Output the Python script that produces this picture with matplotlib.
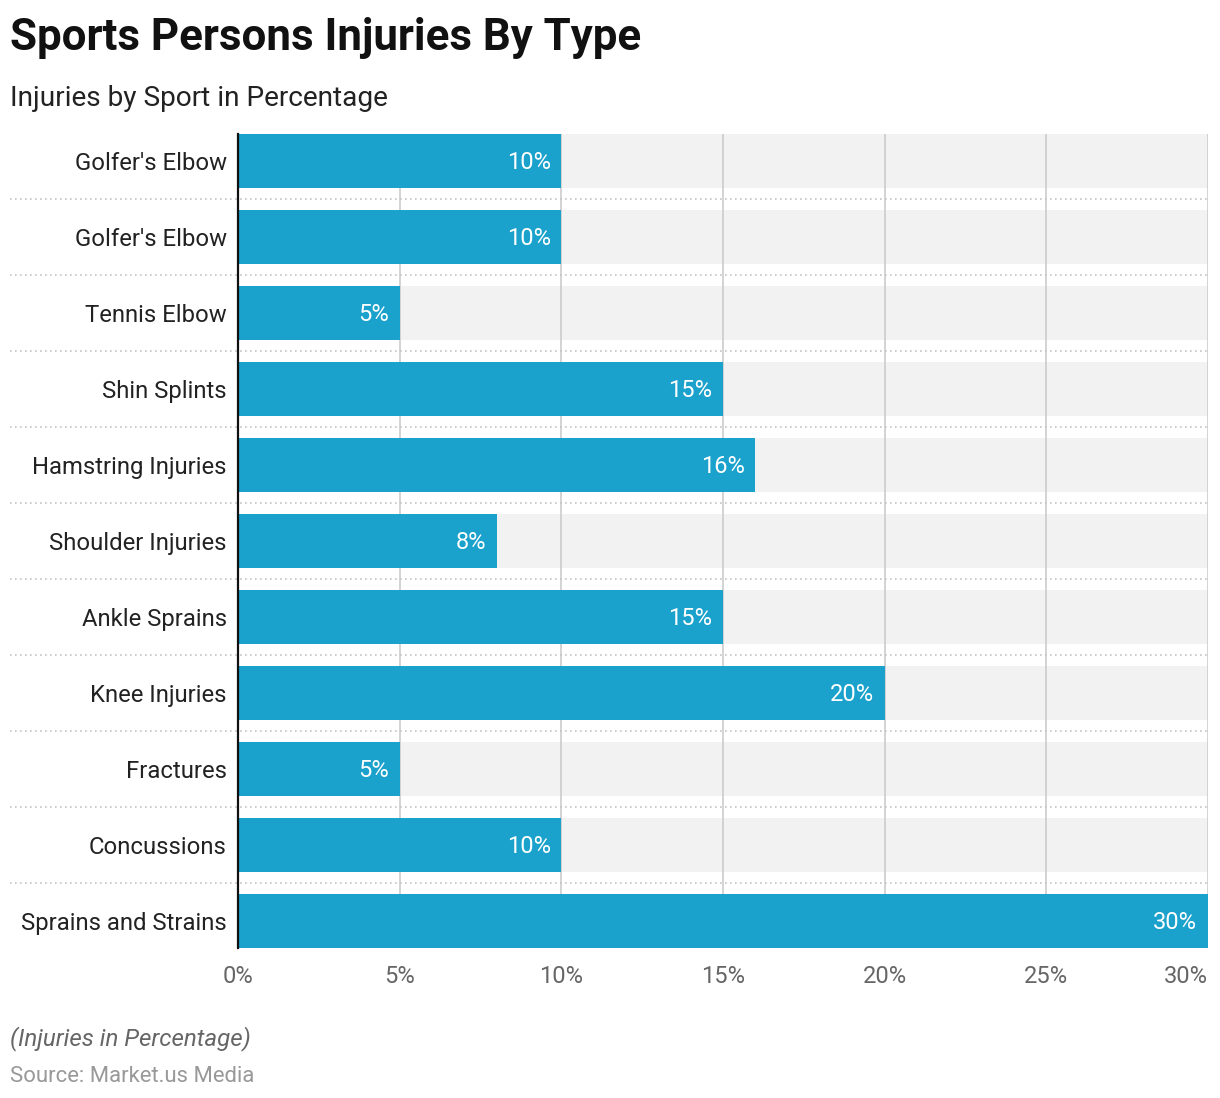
import matplotlib.pyplot as plt

categories = ["Golfer's Elbow", "Golfer's Elbow", "Tennis Elbow", "Shin Splints",
              "Hamstring Injuries", "Shoulder Injuries", "Ankle Sprains",
              "Knee Injuries", "Fractures", "Concussions", "Sprains and Strains"]
values = [10, 10, 5, 15, 16, 8, 15, 20, 5, 10, 30]
xticks = [0, 5, 10, 15, 20, 25, 30]
xmax = 30

plt.rcParams['font.family'] = ['Roboto', 'DejaVu Sans']

W, H = 1220, 1098
fig = plt.figure(figsize=(W / 100, H / 100), dpi=100)
# axes placed in pixel coords: x 238..1208, y 134..948
ax = fig.add_axes([238 / W, 1 - 948 / H, (1208 - 238) / W, (948 - 134) / H])

bh = 0.71
ypos = list(range(len(categories)))
ax.barh(ypos, [xmax] * len(values), height=bh, color='#f2f2f2', zorder=1)
ax.barh(ypos, values, height=bh, color='#1aa1cc', zorder=3)

for x in xticks[1:]:
    ax.axvline(x, color='#cccccc', lw=1.2, zorder=2)

for y, v in zip(ypos, values):
    ax.text(v - 0.33, y + 0.02, f"{v}%", color='white', ha='right', va='center',
            fontsize=17, zorder=4)

# dotted separators between rows, running into the label area
x0 = (10 - 238) / (1208 - 238)
for y in ypos[:-1]:
    ax.axhline(y + 0.5, xmin=x0, xmax=1, color='#c4c4c4', lw=1.2,
               ls=(0, (1, 2)), clip_on=False, zorder=2)

ax.set_xlim(0, xmax)
ax.set_ylim(len(categories) - 1 + bh / 2, -bh / 2)
ax.set_yticks(ypos)
ax.set_yticklabels(categories, fontsize=17.2, color='#222222')
ax.set_xticks(xticks)
ax.set_xticklabels([f"{t}%" for t in xticks], fontsize=17, color='#666666')
ax.get_xticklabels()[-1].set_ha('right')
ax.tick_params(axis='both', length=0)
ax.tick_params(axis='y', pad=8)
ax.tick_params(axis='x', pad=12)
for s in ['top', 'right', 'bottom']:
    ax.spines[s].set_visible(False)
ax.spines['left'].set_color('#111111')
ax.spines['left'].set_linewidth(1.6)
ax.spines['left'].set_zorder(5)

fig.text(10 / W, 1 - 38 / H, "Sports Persons Injuries By Type", fontsize=31.6,
         fontweight='bold', color='#111111', va='center', ha='left')
fig.text(10 / W, 1 - 98 / H, "Injuries by Sport in Percentage", fontsize=20.2,
         color='#222222', va='center', ha='left')
fig.text(10 / W, 1 - 1039 / H, "(Injuries in Percentage)", fontsize=17.4,
         style='italic', color='#666666', va='center', ha='left')
fig.text(10 / W, 1 - 1076 / H, "Source: Market.us Media", fontsize=15.9,
         color='#999999', va='center', ha='left')

fig.savefig('out.png', dpi=100, facecolor='white')
